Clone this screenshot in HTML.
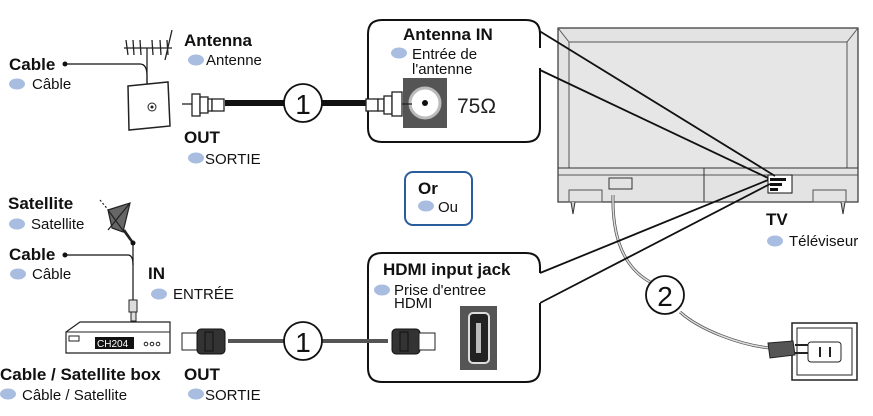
<!DOCTYPE html>
<html><head><meta charset="utf-8"><style>
html,body{margin:0;padding:0;background:#fff}
svg{display:block}
text{font-family:"Liberation Sans",sans-serif}
.b{font-weight:bold;font-size:17px;fill:#111}
.s{font-size:15px;fill:#111}
</style></head><body>
<svg width="873" height="416" viewBox="0 0 873 416" xmlns="http://www.w3.org/2000/svg">
<defs><g id="dot"><ellipse cx="0" cy="0" rx="8" ry="5.5" fill="#a9bde0"/></g></defs>

<!-- TV -->
<rect x="558" y="28" width="300" height="174" fill="#e3e3e3" stroke="#333" stroke-width="1.2"/>
<rect x="569" y="42" width="278" height="126" fill="#e6e6e6" stroke="#555" stroke-width="1"/>
<line x1="558" y1="28" x2="569" y2="42" stroke="#555"/><line x1="858" y1="28" x2="847" y2="42" stroke="#555"/>
<line x1="558" y1="168" x2="858" y2="168" stroke="#333"/>
<line x1="558" y1="175" x2="858" y2="175" stroke="#555"/>
<line x1="704" y1="168" x2="704" y2="202" stroke="#333"/>
<rect x="609" y="178" width="23" height="11" fill="none" stroke="#333"/>
<rect x="569" y="190" width="33" height="12" fill="none" stroke="#555"/>
<rect x="813" y="190" width="33" height="12" fill="none" stroke="#555"/>
<rect x="768" y="175" width="24" height="18" fill="#fff" stroke="#111"/>
<rect x="770" y="178" width="16" height="3" fill="#111"/><rect x="770" y="183" width="12" height="3" fill="#111"/><rect x="770" y="188" width="8" height="3" fill="#111"/>
<path d="M571 202 l2 12 2 -12 M841 202 l2 12 2 -12" stroke="#333" fill="#ccc"/>
<!-- power cord -->
<path d="M613 195 C612 240 625 268 650 282" fill="none" stroke="#555" stroke-width="3"/>
<path d="M613 195 C612 240 625 268 650 282" fill="none" stroke="#ddd" stroke-width="1.5"/>
<path d="M680 312 C700 330 740 345 770 348" fill="none" stroke="#555" stroke-width="3"/>
<path d="M680 312 C700 330 740 345 770 348" fill="none" stroke="#ddd" stroke-width="1.5"/>
<rect x="792" y="323" width="65" height="57" fill="#fff" stroke="#222" stroke-width="1.5"/>
<rect x="797" y="328" width="55" height="47" fill="none" stroke="#222"/>
<rect x="808" y="342" width="33" height="20" rx="3" fill="#fff" stroke="#222"/>
<line x1="820" y1="347" x2="820" y2="357" stroke="#222" stroke-width="2"/><line x1="830" y1="347" x2="830" y2="357" stroke="#222" stroke-width="2"/>
<path d="M768 343 l25 -2 2 14 -25 3 z" fill="#555" stroke="#222"/>
<line x1="795" y1="345" x2="808" y2="345" stroke="#222" stroke-width="2"/><line x1="795" y1="353" x2="808" y2="353" stroke="#222" stroke-width="2"/>

<!-- pointer lines -->
<line x1="528" y1="24" x2="775" y2="176" stroke="#111" stroke-width="1.8"/>
<line x1="540" y1="70" x2="768" y2="178" stroke="#111" stroke-width="1.8"/>
<line x1="540" y1="273" x2="768" y2="180" stroke="#111" stroke-width="1.8"/>
<line x1="540" y1="303" x2="770" y2="184" stroke="#111" stroke-width="1.8"/>

<!-- Antenna IN box -->
<path d="M540 48 V34 Q540 20 526 20 H382 Q368 20 368 34 V128 Q368 142 382 142 H526 Q540 142 540 128 V68" fill="#fff" stroke="#111" stroke-width="2"/>
<text x="403" y="40" class="b">Antenna IN</text>
<use href="#dot" x="399" y="53"/>
<text x="412" y="59" class="s">Entrée de</text>
<text x="412" y="74" class="s">l'antenne</text>
<rect x="403" y="78" width="44" height="50" fill="#555"/>
<circle cx="425" cy="103" r="15" fill="#fff" stroke="#bbb" stroke-width="3"/>
<circle cx="425" cy="103" r="3" fill="#111"/>
<text x="457" y="113" font-size="21" fill="#222" font-family="Liberation Serif,serif">75Ω</text>

<!-- HDMI box -->
<path d="M540 273 V267 Q540 253 526 253 H382 Q368 253 368 267 V368 Q368 382 382 382 H526 Q540 382 540 368 V303" fill="#fff" stroke="#111" stroke-width="2"/>
<text x="383" y="275" class="b">HDMI input jack</text>
<use href="#dot" x="382" y="290"/>
<text x="394" y="295" class="s">Prise d'entree</text>
<text x="394" y="308" class="s">HDMI</text>
<rect x="460" y="306" width="37" height="64" fill="#555"/>
<rect x="469" y="313" width="20" height="50" rx="4" fill="#222" stroke="#ddd" stroke-width="2"/>
<rect x="476" y="323" width="5" height="30" fill="#bbb"/>

<!-- Or box -->
<rect x="405" y="172" width="67" height="53" rx="8" fill="#fff" stroke="#2a5d9c" stroke-width="2"/>
<text x="418" y="194" class="b">Or</text>
<use href="#dot" x="426" y="206"/>
<text x="438" y="212" class="s">Ou</text>

<!-- antenna cable -->
<line x1="225" y1="103" x2="285" y2="103" stroke="#111" stroke-width="6"/>
<line x1="322" y1="103" x2="378" y2="103" stroke="#111" stroke-width="6"/>
<g fill="#fff" stroke="#222" stroke-width="1.3">
<line x1="182" y1="104" x2="192" y2="104"/>
<rect x="192" y="94" width="8" height="22"/><rect x="200" y="97" width="8" height="16"/><rect x="208" y="99" width="4" height="12"/>
<rect x="212" y="99" width="12" height="12"/>
<rect x="366" y="99" width="12" height="12"/><rect x="378" y="99" width="6" height="12"/>
<rect x="384" y="96" width="8" height="18"/><rect x="392" y="92" width="10" height="24"/>
<line x1="402" y1="104" x2="412" y2="104"/>
</g>
<circle cx="303" cy="103" r="19" fill="#fff" stroke="#111" stroke-width="1.8"/>
<text x="303" y="114" font-size="28" text-anchor="middle" fill="#111">1</text>

<!-- wall plate & antenna -->
<path d="M128 86 l40 -4 2 44 -41 4 z" fill="#fff" stroke="#222" stroke-width="1.5"/>
<circle cx="152" cy="107" r="4" fill="none" stroke="#222"/><circle cx="152" cy="107" r="1.5" fill="#222"/>
<path d="M65 64 H140 Q147 64 147 76 V84" fill="none" stroke="#111" stroke-width="1.2"/>
<circle cx="65" cy="64" r="2.5" fill="#111"/>
<g stroke="#222" stroke-width="1.3" fill="none">
<line x1="124" y1="48" x2="172" y2="48"/><line x1="147" y1="48" x2="147" y2="84"/>
<line x1="126" y1="40" x2="128" y2="55"/><line x1="133" y1="40" x2="134" y2="55"/><line x1="140" y1="40" x2="141" y2="55"/><line x1="152" y1="40" x2="153" y2="55"/><line x1="160" y1="40" x2="161" y2="55"/><line x1="167" y1="40" x2="168" y2="55"/>
<path d="M172 30 L165 60"/>
</g>

<!-- labels top-left -->
<text x="9" y="70" class="b">Cable</text>
<use href="#dot" x="17" y="84"/><text x="32" y="89" class="s">Câble</text>
<text x="184" y="46" class="b">Antenna</text>
<use href="#dot" x="196" y="60"/><text x="206" y="65" class="s">Antenne</text>
<text x="184" y="143" class="b">OUT</text>
<use href="#dot" x="196" y="158"/><text x="205" y="164" class="s">SORTIE</text>

<!-- satellite -->
<g stroke="#222" stroke-width="1.2">
<path d="M108 210 L130 203 L123 232 L112 228 z" fill="#666"/>
<line x1="108" y1="210" x2="130" y2="240"/><line x1="130" y1="203" x2="108" y2="230"/>
<line x1="124" y1="230" x2="133" y2="243" stroke-width="2.5"/>
<line x1="100" y1="200" x2="110" y2="212" stroke-dasharray="2,2"/>
</g>
<circle cx="133" cy="243" r="2.5" fill="#111"/>
<line x1="133" y1="243" x2="133" y2="300" stroke="#111" stroke-width="1.2"/>
<path d="M65 255 H128 Q133 255 133 265" fill="none" stroke="#111" stroke-width="1.2"/>
<circle cx="65" cy="255" r="2.5" fill="#111"/>
<rect x="129" y="300" width="8" height="12" fill="#ddd" stroke="#222"/>
<rect x="131" y="312" width="5" height="9" fill="#ddd" stroke="#222"/>
<!-- box -->
<path d="M66 332 L80 322 H170 V353 H66 z" fill="#fff" stroke="#222" stroke-width="1.2"/>
<line x1="66" y1="332" x2="170" y2="332" stroke="#222"/>
<rect x="69" y="336" width="10" height="5" fill="#fff" stroke="#222"/>
<rect x="95" y="337" width="39" height="12" fill="#111"/>
<text x="97" y="347" font-size="10" fill="#fff" font-family="Liberation Mono,monospace">CH204</text>
<circle cx="146" cy="344" r="1.8" fill="none" stroke="#222"/><circle cx="152" cy="344" r="1.8" fill="none" stroke="#222"/><circle cx="158" cy="344" r="1.8" fill="none" stroke="#222"/>

<!-- hdmi cable -->
<line x1="228" y1="341" x2="285" y2="341" stroke="#555" stroke-width="4"/>
<line x1="322" y1="341" x2="388" y2="341" stroke="#555" stroke-width="4"/>
<rect x="182" y="333" width="16" height="17" fill="#fff" stroke="#222"/>
<rect x="197" y="329" width="28" height="25" rx="4" fill="#333" stroke="#111"/>
<rect x="205" y="332" width="8" height="19" fill="none" stroke="#111"/>
<rect x="392" y="329" width="28" height="25" rx="4" fill="#333" stroke="#111"/>
<rect x="400" y="332" width="8" height="19" fill="none" stroke="#111"/>
<rect x="419" y="333" width="16" height="17" fill="#fff" stroke="#222"/>
<circle cx="303" cy="341" r="19" fill="#fff" stroke="#111" stroke-width="1.8"/>
<text x="303" y="352" font-size="28" text-anchor="middle" fill="#111">1</text>

<circle cx="665" cy="295" r="19" fill="#fff" stroke="#111" stroke-width="1.8"/>
<text x="665" y="306" font-size="28" text-anchor="middle" fill="#111">2</text>

<!-- labels bottom-left -->
<text x="8" y="209" class="b">Satellite</text>
<use href="#dot" x="17" y="224"/><text x="31" y="229" class="s">Satellite</text>
<text x="9" y="260" class="b">Cable</text>
<use href="#dot" x="18" y="274"/><text x="32" y="279" class="s">Câble</text>
<text x="148" y="279" class="b">IN</text>
<use href="#dot" x="159" y="294"/><text x="173" y="299" class="s">ENTRÉE</text>
<text x="0" y="380" class="b">Cable / Satellite box</text>
<use href="#dot" x="8" y="394"/><text x="22" y="400" class="s">Câble / Satellite</text>
<text x="184" y="380" class="b">OUT</text>
<use href="#dot" x="196" y="394"/><text x="205" y="400" class="s">SORTIE</text>
<text x="766" y="225" class="b">TV</text>
<use href="#dot" x="775" y="241"/><text x="789" y="246" class="s">Téléviseur</text>
</svg>
</body></html>
